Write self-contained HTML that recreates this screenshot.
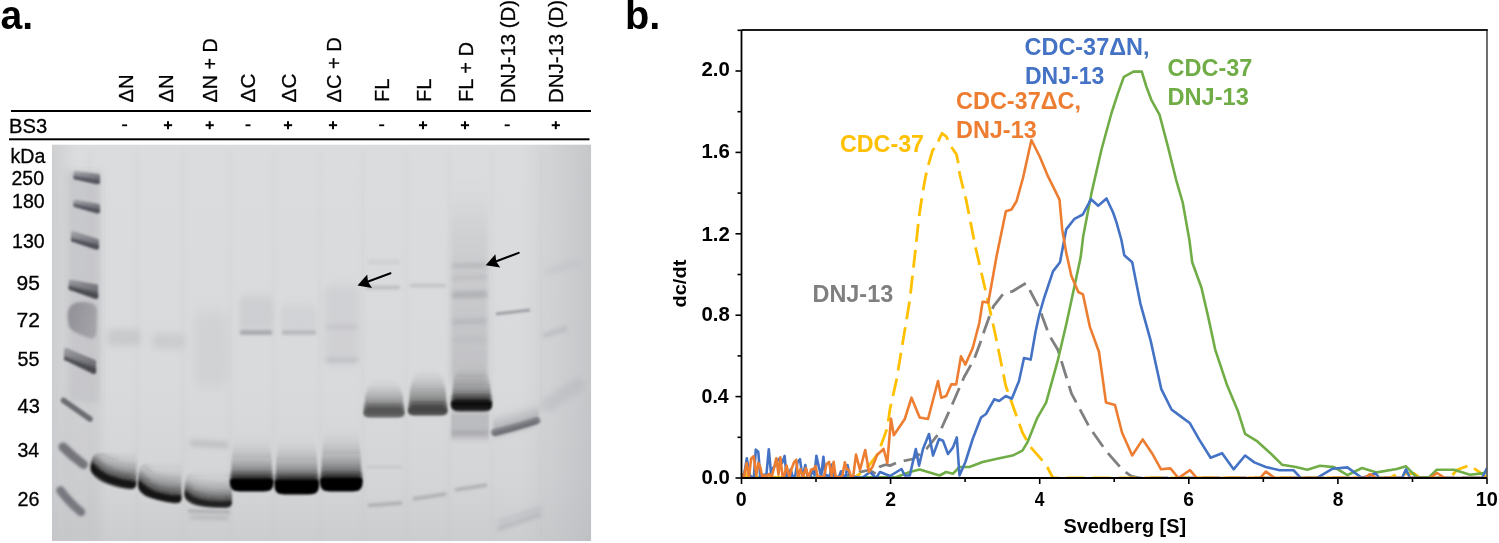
<!DOCTYPE html>
<html><head><meta charset="utf-8"><title>Figure</title>
<style>
html,body{margin:0;padding:0;background:#fff;width:1499px;height:543px;overflow:hidden}
svg{display:block;position:absolute;left:0;top:0;will-change:transform}
text{font-family:"Liberation Sans",sans-serif}
text.r{stroke:#000;stroke-width:0.3px}
.b{font-weight:bold}
</style></head><body>
<svg width="1499" height="543" viewBox="0 0 1499 543">

<text x="0.5" y="28.5" font-size="41.0" font-weight="bold" textLength="32.58" lengthAdjust="spacingAndGlyphs">a.</text>
<text x="0" y="0" font-size="20.8" class="r" textLength="27.97" lengthAdjust="spacingAndGlyphs" transform="translate(132.5,102.5) rotate(-90)">ΔN</text>
<text x="0" y="0" font-size="20.8" class="r" textLength="27.97" lengthAdjust="spacingAndGlyphs" transform="translate(172.5,102.5) rotate(-90)">ΔN</text>
<text x="0" y="0" font-size="20.8" class="r" textLength="64.24" lengthAdjust="spacingAndGlyphs" transform="translate(216.5,102.5) rotate(-90)">ΔN + D</text>
<text x="0" y="0" font-size="20.8" class="r" transform="translate(255.0,102.5) rotate(-90)">ΔC</text>
<text x="0" y="0" font-size="20.8" class="r" transform="translate(296.0,102.5) rotate(-90)">ΔC</text>
<text x="0" y="0" font-size="20.8" class="r" textLength="65.26" lengthAdjust="spacingAndGlyphs" transform="translate(340.5,102.5) rotate(-90)">ΔC + D</text>
<text x="0" y="0" font-size="20.8" class="r" textLength="23.45" lengthAdjust="spacingAndGlyphs" transform="translate(388.5,102.0) rotate(-90)">FL</text>
<text x="0" y="0" font-size="20.8" class="r" textLength="23.45" lengthAdjust="spacingAndGlyphs" transform="translate(431.0,102.0) rotate(-90)">FL</text>
<text x="0" y="0" font-size="20.8" class="r" textLength="59.91" lengthAdjust="spacingAndGlyphs" transform="translate(473.0,102.0) rotate(-90)">FL + D</text>
<text x="0" y="0" font-size="20.8" class="r" textLength="103.10" lengthAdjust="spacingAndGlyphs" transform="translate(515.0,103.0) rotate(-90)">DNJ-13 (D)</text>
<text x="0" y="0" font-size="20.8" class="r" textLength="103.10" lengthAdjust="spacingAndGlyphs" transform="translate(563.0,103.0) rotate(-90)">DNJ-13 (D)</text>
<rect x="11" y="110" width="580" height="2" fill="#000"/>
<rect x="9" y="138.3" width="580.5" height="2" fill="#000"/>
<text x="9.0" y="133.0" font-size="20.0" class="r" textLength="38.15" lengthAdjust="spacingAndGlyphs">BS3</text>
<rect x="122.1" y="124.4" width="5" height="1.8" fill="#000"/>
<rect x="163.9" y="124.2" width="8.2" height="2" fill="#000"/>
<rect x="167.0" y="121.2" width="2" height="8" fill="#000"/>
<rect x="205.6" y="124.2" width="8.2" height="2" fill="#000"/>
<rect x="208.7" y="121.2" width="2" height="8" fill="#000"/>
<rect x="245.5" y="124.4" width="5" height="1.8" fill="#000"/>
<rect x="283.9" y="124.2" width="8.2" height="2" fill="#000"/>
<rect x="287.0" y="121.2" width="2" height="8" fill="#000"/>
<rect x="328.9" y="124.2" width="8.2" height="2" fill="#000"/>
<rect x="332.0" y="121.2" width="2" height="8" fill="#000"/>
<rect x="379.2" y="124.4" width="5" height="1.8" fill="#000"/>
<rect x="418.9" y="124.2" width="8.2" height="2" fill="#000"/>
<rect x="422.0" y="121.2" width="2" height="8" fill="#000"/>
<rect x="460.9" y="124.2" width="8.2" height="2" fill="#000"/>
<rect x="464.0" y="121.2" width="2" height="8" fill="#000"/>
<rect x="504.7" y="124.4" width="5" height="1.8" fill="#000"/>
<rect x="551.7" y="124.2" width="8.2" height="2" fill="#000"/>
<rect x="554.8" y="121.2" width="2" height="8" fill="#000"/>
<text x="10.5" y="163.0" font-size="20.0" class="r" textLength="34.84" lengthAdjust="spacingAndGlyphs">kDa</text>
<text x="11.5" y="184.5" font-size="20.0" class="r" textLength="32.46" lengthAdjust="spacingAndGlyphs">250</text>
<text x="12.0" y="208.0" font-size="20.0" class="r" textLength="32.71" lengthAdjust="spacingAndGlyphs">180</text>
<text x="12.0" y="248.0" font-size="20.0" class="r" textLength="32.71" lengthAdjust="spacingAndGlyphs">130</text>
<text x="16.5" y="289.5" font-size="20.0" class="r" textLength="23.34" lengthAdjust="spacingAndGlyphs">95</text>
<text x="16.5" y="327.0" font-size="20.0" class="r" textLength="23.34" lengthAdjust="spacingAndGlyphs">72</text>
<text x="17.5" y="365.5" font-size="20.0" class="r" textLength="21.97" lengthAdjust="spacingAndGlyphs">55</text>
<text x="17.5" y="413.0" font-size="20.0" class="r" textLength="22.28" lengthAdjust="spacingAndGlyphs">43</text>
<text x="17.5" y="456.5" font-size="20.0" class="r" textLength="21.74" lengthAdjust="spacingAndGlyphs">34</text>
<text x="17.5" y="506.0" font-size="20.0" class="r" textLength="21.97" lengthAdjust="spacingAndGlyphs">26</text>
<defs>
<filter id="b1" filterUnits="userSpaceOnUse" x="0" y="0" width="1499" height="543"><feGaussianBlur stdDeviation="1.2"/></filter>
<filter id="b2" filterUnits="userSpaceOnUse" x="0" y="0" width="1499" height="543"><feGaussianBlur stdDeviation="2"/></filter>
<filter id="b3" filterUnits="userSpaceOnUse" x="0" y="0" width="1499" height="543"><feGaussianBlur stdDeviation="3.5"/></filter>
<filter id="b6" filterUnits="userSpaceOnUse" x="0" y="0" width="1499" height="543"><feGaussianBlur stdDeviation="6"/></filter>
<linearGradient id="smear" x1="0" y1="0" x2="0" y2="1">
 <stop offset="0" stop-color="#707070" stop-opacity="0"/>
 <stop offset="0.55" stop-color="#606060" stop-opacity="0.55"/>
 <stop offset="1" stop-color="#303030" stop-opacity="0.95"/>
</linearGradient>
<clipPath id="plotclip"><rect x="741.5" y="30" width="745.5" height="448"/></clipPath>
<clipPath id="gelclip"><rect x="52" y="144.5" width="539.3" height="396.6"/></clipPath>
</defs>
<defs><linearGradient id="gbg" gradientUnits="userSpaceOnUse" x1="0" y1="144" x2="0" y2="541"><stop offset="0" stop-color="#dbdcdd"/><stop offset="0.6" stop-color="#d9dadb"/><stop offset="0.85" stop-color="#d4d5d7"/><stop offset="1" stop-color="#cccdcf"/></linearGradient><linearGradient id="gright" gradientUnits="userSpaceOnUse" x1="520" y1="0" x2="591" y2="0"><stop offset="0" stop-color="#b4b6ba" stop-opacity="0"/><stop offset="1" stop-color="#b4b6ba" stop-opacity="0.55"/></linearGradient><linearGradient id="gleft" gradientUnits="userSpaceOnUse" x1="52" y1="0" x2="75" y2="0"><stop offset="0" stop-color="#b4b6ba" stop-opacity="0.35"/><stop offset="1" stop-color="#b4b6ba" stop-opacity="0"/></linearGradient><filter id="f_1p5_None" filterUnits="userSpaceOnUse" x="0" y="0" width="1499" height="543"><feGaussianBlur stdDeviation="1.5"/></filter><filter id="f_3p5_None" filterUnits="userSpaceOnUse" x="0" y="0" width="1499" height="543"><feGaussianBlur stdDeviation="3.5"/></filter><filter id="f_2_None" filterUnits="userSpaceOnUse" x="0" y="0" width="1499" height="543"><feGaussianBlur stdDeviation="2"/></filter><clipPath id="c1"><path d="M73.3,172.8 Q73.3,170.8 75.8,170.8 L98,173.8 Q100,173.8 100,175.8 L100,181.9 Q100,184.4 97,184.4 L76.3,179.8 Q73.3,179.8 73.3,177.3 Z"/></clipPath><filter id="f_0p9_None" filterUnits="userSpaceOnUse" x="0" y="0" width="1499" height="543"><feGaussianBlur stdDeviation="0.9"/></filter><linearGradient id="g2" gradientUnits="userSpaceOnUse" x1="73.3" y1="170.8" x2="77.3" y2="184.4"><stop offset="0" stop-color="#4e4e58" stop-opacity="0.303"/><stop offset="1" stop-color="#4e4e58" stop-opacity="0.688"/></linearGradient><filter id="f_1p0_None" filterUnits="userSpaceOnUse" x="0" y="0" width="1499" height="543"><feGaussianBlur stdDeviation="1.0"/></filter><clipPath id="c3"><path d="M73.3,201.5 Q73.3,199.5 75.8,199.5 L98,203.5 Q100,203.5 100,205.5 L100,211.3 Q100,213.8 97,213.8 L76.3,207.5 Q73.3,207.5 73.3,205.0 Z"/></clipPath><linearGradient id="g4" gradientUnits="userSpaceOnUse" x1="73.3" y1="199.5" x2="77.3" y2="213.8"><stop offset="0" stop-color="#4e4e58" stop-opacity="0.303"/><stop offset="1" stop-color="#4e4e58" stop-opacity="0.688"/></linearGradient><clipPath id="c5"><path d="M71,233 Q71,231 73.5,231 L97,238.5 Q99,238.5 99,240.5 L99,247.4 Q99,249.9 96,249.9 L74,242.3 Q71,242.3 71,239.8 Z"/></clipPath><linearGradient id="g6" gradientUnits="userSpaceOnUse" x1="71" y1="231" x2="75" y2="249.9"><stop offset="0" stop-color="#4a4a54" stop-opacity="0.303"/><stop offset="1" stop-color="#4a4a54" stop-opacity="0.688"/></linearGradient><clipPath id="c7"><path d="M68.5,281.5 Q68.5,279.5 71.0,279.5 L96.3,284 Q98.3,284 98.3,286 L98.3,296.7 Q98.3,299.2 95.3,299.2 L71.5,290.5 Q68.5,290.5 68.5,288.0 Z"/></clipPath><filter id="f_1p3_None" filterUnits="userSpaceOnUse" x="0" y="0" width="1499" height="543"><feGaussianBlur stdDeviation="1.3"/></filter><linearGradient id="g8" gradientUnits="userSpaceOnUse" x1="68.5" y1="279.5" x2="72.5" y2="299.2"><stop offset="0" stop-color="#46464e" stop-opacity="0.341"/><stop offset="1" stop-color="#46464e" stop-opacity="0.775"/></linearGradient><linearGradient id="g9" x1="0" y1="0" x2="1" y2="0.3"><stop offset="0" stop-color="#66666e" stop-opacity="0.6"/><stop offset="1" stop-color="#76767e" stop-opacity="0.45"/></linearGradient><filter id="f_1p6_None" filterUnits="userSpaceOnUse" x="0" y="0" width="1499" height="543"><feGaussianBlur stdDeviation="1.6"/></filter><clipPath id="c10"><path d="M64,349.8 Q64,347.8 66.5,347.8 L94.2,359.5 Q96.2,359.5 96.2,361.5 L96.2,371.7 Q96.2,374.2 93.2,374.2 L67,361 Q64,361 64,358.5 Z"/></clipPath><linearGradient id="g11" gradientUnits="userSpaceOnUse" x1="64" y1="347.8" x2="68" y2="374.2"><stop offset="0" stop-color="#46464e" stop-opacity="0.341"/><stop offset="1" stop-color="#46464e" stop-opacity="0.775"/></linearGradient><filter id="f_1p8_None" filterUnits="userSpaceOnUse" x="0" y="0" width="1499" height="543"><feGaussianBlur stdDeviation="1.8"/></filter><filter id="f_3_3p5" filterUnits="userSpaceOnUse" x="0" y="0" width="1499" height="543"><feGaussianBlur stdDeviation="3 3.5"/></filter><filter id="f_4_7" filterUnits="userSpaceOnUse" x="0" y="0" width="1499" height="543"><feGaussianBlur stdDeviation="4 7"/></filter><filter id="f_2p5_4" filterUnits="userSpaceOnUse" x="0" y="0" width="1499" height="543"><feGaussianBlur stdDeviation="2.5 4"/></filter><filter id="f_3_5" filterUnits="userSpaceOnUse" x="0" y="0" width="1499" height="543"><feGaussianBlur stdDeviation="3 5"/></filter><linearGradient id="g12" x1="0" y1="0" x2="0" y2="1"><stop offset="0.000" stop-color="#a8a8ae" stop-opacity="0.000"/><stop offset="0.300" stop-color="#a8a8ae" stop-opacity="0.250"/><stop offset="1.000" stop-color="#a0a0a6" stop-opacity="0.450"/></linearGradient><filter id="f_2_4" filterUnits="userSpaceOnUse" x="0" y="0" width="1499" height="543"><feGaussianBlur stdDeviation="2 4"/></filter><filter id="f_2p2_None" filterUnits="userSpaceOnUse" x="0" y="0" width="1499" height="543"><feGaussianBlur stdDeviation="2.2"/></filter><filter id="f_1_None" filterUnits="userSpaceOnUse" x="0" y="0" width="1499" height="543"><feGaussianBlur stdDeviation="1"/></filter><filter id="f_3_None" filterUnits="userSpaceOnUse" x="0" y="0" width="1499" height="543"><feGaussianBlur stdDeviation="3"/></filter><filter id="f_2p5_None" filterUnits="userSpaceOnUse" x="0" y="0" width="1499" height="543"><feGaussianBlur stdDeviation="2.5"/></filter><clipPath id="c13"><path d="M90.5,470 C90.5,461 92,455 98,453 L136.5,452 L136.5,484 Q136,489.5 129,489.5 Q113,487.5 101,481.5 Q92,476 90.5,470 Z"/></clipPath><linearGradient id="g14" x1="0" y1="0" x2="0" y2="1"><stop offset="0.000" stop-color="#383838" stop-opacity="0.000"/><stop offset="0.125" stop-color="#383838" stop-opacity="0.020"/><stop offset="0.250" stop-color="#383838" stop-opacity="0.056"/><stop offset="0.375" stop-color="#383838" stop-opacity="0.103"/><stop offset="0.500" stop-color="#383838" stop-opacity="0.159"/><stop offset="0.625" stop-color="#383838" stop-opacity="0.222"/><stop offset="0.750" stop-color="#383838" stop-opacity="0.292"/><stop offset="0.875" stop-color="#383838" stop-opacity="0.368"/><stop offset="1.000" stop-color="#383838" stop-opacity="0.450"/></linearGradient><filter id="f_1p5_3" filterUnits="userSpaceOnUse" x="0" y="0" width="1499" height="543"><feGaussianBlur stdDeviation="1.5 3"/></filter><filter id="f_4_None" filterUnits="userSpaceOnUse" x="0" y="0" width="1499" height="543"><feGaussianBlur stdDeviation="4"/></filter><clipPath id="c15"><path d="M138,480 C138,470 140,464 146,463 L181.5,462 L181.5,499 Q181,503.5 175,503.5 Q158,501 146,496.5 Q138.5,492 138,486 Z"/></clipPath><linearGradient id="g16" x1="0" y1="0" x2="0" y2="1"><stop offset="0.000" stop-color="#383838" stop-opacity="0.000"/><stop offset="0.125" stop-color="#383838" stop-opacity="0.020"/><stop offset="0.250" stop-color="#383838" stop-opacity="0.056"/><stop offset="0.375" stop-color="#383838" stop-opacity="0.103"/><stop offset="0.500" stop-color="#383838" stop-opacity="0.159"/><stop offset="0.625" stop-color="#383838" stop-opacity="0.222"/><stop offset="0.750" stop-color="#383838" stop-opacity="0.292"/><stop offset="0.875" stop-color="#383838" stop-opacity="0.368"/><stop offset="1.000" stop-color="#383838" stop-opacity="0.450"/></linearGradient><clipPath id="c17"><path d="M184.5,490 C184.5,480 186,473 192,472 L232,471 L232,503 Q231.5,508 225,508 Q205,508 194,505 Q185,501 184.5,496 Z"/></clipPath><linearGradient id="g18" x1="0" y1="0" x2="0" y2="1"><stop offset="0.000" stop-color="#3c3c3c" stop-opacity="0.000"/><stop offset="0.125" stop-color="#3c3c3c" stop-opacity="0.019"/><stop offset="0.250" stop-color="#3c3c3c" stop-opacity="0.052"/><stop offset="0.375" stop-color="#3c3c3c" stop-opacity="0.096"/><stop offset="0.500" stop-color="#3c3c3c" stop-opacity="0.148"/><stop offset="0.625" stop-color="#3c3c3c" stop-opacity="0.208"/><stop offset="0.750" stop-color="#3c3c3c" stop-opacity="0.273"/><stop offset="0.875" stop-color="#3c3c3c" stop-opacity="0.344"/><stop offset="1.000" stop-color="#3c3c3c" stop-opacity="0.420"/></linearGradient><linearGradient id="g19" gradientUnits="userSpaceOnUse" x1="0" y1="426" x2="0" y2="480.5"><stop offset="0.00" stop-color="#1e1e1e" stop-opacity="0.000"/><stop offset="0.05" stop-color="#1e1e1e" stop-opacity="0.000"/><stop offset="0.10" stop-color="#1e1e1e" stop-opacity="0.001"/><stop offset="0.15" stop-color="#1e1e1e" stop-opacity="0.002"/><stop offset="0.20" stop-color="#1e1e1e" stop-opacity="0.005"/><stop offset="0.25" stop-color="#1e1e1e" stop-opacity="0.009"/><stop offset="0.30" stop-color="#1e1e1e" stop-opacity="0.017"/><stop offset="0.35" stop-color="#1e1e1e" stop-opacity="0.028"/><stop offset="0.40" stop-color="#1e1e1e" stop-opacity="0.043"/><stop offset="0.45" stop-color="#1e1e1e" stop-opacity="0.062"/><stop offset="0.50" stop-color="#1e1e1e" stop-opacity="0.087"/><stop offset="0.55" stop-color="#1e1e1e" stop-opacity="0.118"/><stop offset="0.60" stop-color="#1e1e1e" stop-opacity="0.156"/><stop offset="0.65" stop-color="#1e1e1e" stop-opacity="0.202"/><stop offset="0.70" stop-color="#1e1e1e" stop-opacity="0.256"/><stop offset="0.75" stop-color="#1e1e1e" stop-opacity="0.319"/><stop offset="0.80" stop-color="#1e1e1e" stop-opacity="0.392"/><stop offset="0.85" stop-color="#1e1e1e" stop-opacity="0.476"/><stop offset="0.90" stop-color="#1e1e1e" stop-opacity="0.571"/><stop offset="0.95" stop-color="#1e1e1e" stop-opacity="0.679"/><stop offset="1.00" stop-color="#1e1e1e" stop-opacity="0.800"/></linearGradient><filter id="f_1p2_2p5" filterUnits="userSpaceOnUse" x="0" y="0" width="1499" height="543"><feGaussianBlur stdDeviation="1.2 2.5"/></filter><filter id="f_1p1_None" filterUnits="userSpaceOnUse" x="0" y="0" width="1499" height="543"><feGaussianBlur stdDeviation="1.1"/></filter><linearGradient id="g20" gradientUnits="userSpaceOnUse" x1="0" y1="426" x2="0" y2="481.5"><stop offset="0.00" stop-color="#1e1e1e" stop-opacity="0.000"/><stop offset="0.05" stop-color="#1e1e1e" stop-opacity="0.000"/><stop offset="0.10" stop-color="#1e1e1e" stop-opacity="0.001"/><stop offset="0.15" stop-color="#1e1e1e" stop-opacity="0.002"/><stop offset="0.20" stop-color="#1e1e1e" stop-opacity="0.005"/><stop offset="0.25" stop-color="#1e1e1e" stop-opacity="0.009"/><stop offset="0.30" stop-color="#1e1e1e" stop-opacity="0.017"/><stop offset="0.35" stop-color="#1e1e1e" stop-opacity="0.028"/><stop offset="0.40" stop-color="#1e1e1e" stop-opacity="0.043"/><stop offset="0.45" stop-color="#1e1e1e" stop-opacity="0.062"/><stop offset="0.50" stop-color="#1e1e1e" stop-opacity="0.087"/><stop offset="0.55" stop-color="#1e1e1e" stop-opacity="0.118"/><stop offset="0.60" stop-color="#1e1e1e" stop-opacity="0.156"/><stop offset="0.65" stop-color="#1e1e1e" stop-opacity="0.202"/><stop offset="0.70" stop-color="#1e1e1e" stop-opacity="0.256"/><stop offset="0.75" stop-color="#1e1e1e" stop-opacity="0.319"/><stop offset="0.80" stop-color="#1e1e1e" stop-opacity="0.392"/><stop offset="0.85" stop-color="#1e1e1e" stop-opacity="0.476"/><stop offset="0.90" stop-color="#1e1e1e" stop-opacity="0.571"/><stop offset="0.95" stop-color="#1e1e1e" stop-opacity="0.679"/><stop offset="1.00" stop-color="#1e1e1e" stop-opacity="0.800"/></linearGradient><linearGradient id="g21" gradientUnits="userSpaceOnUse" x1="0" y1="418" x2="0" y2="479.5"><stop offset="0.00" stop-color="#1e1e1e" stop-opacity="0.000"/><stop offset="0.05" stop-color="#1e1e1e" stop-opacity="0.000"/><stop offset="0.10" stop-color="#1e1e1e" stop-opacity="0.001"/><stop offset="0.15" stop-color="#1e1e1e" stop-opacity="0.003"/><stop offset="0.20" stop-color="#1e1e1e" stop-opacity="0.006"/><stop offset="0.25" stop-color="#1e1e1e" stop-opacity="0.013"/><stop offset="0.30" stop-color="#1e1e1e" stop-opacity="0.022"/><stop offset="0.35" stop-color="#1e1e1e" stop-opacity="0.034"/><stop offset="0.40" stop-color="#1e1e1e" stop-opacity="0.051"/><stop offset="0.45" stop-color="#1e1e1e" stop-opacity="0.073"/><stop offset="0.50" stop-color="#1e1e1e" stop-opacity="0.100"/><stop offset="0.55" stop-color="#1e1e1e" stop-opacity="0.133"/><stop offset="0.60" stop-color="#1e1e1e" stop-opacity="0.173"/><stop offset="0.65" stop-color="#1e1e1e" stop-opacity="0.220"/><stop offset="0.70" stop-color="#1e1e1e" stop-opacity="0.274"/><stop offset="0.75" stop-color="#1e1e1e" stop-opacity="0.338"/><stop offset="0.80" stop-color="#1e1e1e" stop-opacity="0.410"/><stop offset="0.85" stop-color="#1e1e1e" stop-opacity="0.491"/><stop offset="0.90" stop-color="#1e1e1e" stop-opacity="0.583"/><stop offset="0.95" stop-color="#1e1e1e" stop-opacity="0.686"/><stop offset="1.00" stop-color="#1e1e1e" stop-opacity="0.800"/></linearGradient><linearGradient id="g22" gradientUnits="userSpaceOnUse" x1="0" y1="380" x2="0" y2="411.5"><stop offset="0.00" stop-color="#4a4a4a" stop-opacity="0.000"/><stop offset="0.05" stop-color="#4a4a4a" stop-opacity="0.009"/><stop offset="0.10" stop-color="#4a4a4a" stop-opacity="0.025"/><stop offset="0.15" stop-color="#4a4a4a" stop-opacity="0.045"/><stop offset="0.20" stop-color="#4a4a4a" stop-opacity="0.070"/><stop offset="0.25" stop-color="#4a4a4a" stop-opacity="0.098"/><stop offset="0.30" stop-color="#4a4a4a" stop-opacity="0.128"/><stop offset="0.35" stop-color="#4a4a4a" stop-opacity="0.162"/><stop offset="0.40" stop-color="#4a4a4a" stop-opacity="0.197"/><stop offset="0.45" stop-color="#4a4a4a" stop-opacity="0.235"/><stop offset="0.50" stop-color="#4a4a4a" stop-opacity="0.276"/><stop offset="0.55" stop-color="#4a4a4a" stop-opacity="0.318"/><stop offset="0.60" stop-color="#4a4a4a" stop-opacity="0.363"/><stop offset="0.65" stop-color="#4a4a4a" stop-opacity="0.409"/><stop offset="0.70" stop-color="#4a4a4a" stop-opacity="0.457"/><stop offset="0.75" stop-color="#4a4a4a" stop-opacity="0.507"/><stop offset="0.80" stop-color="#4a4a4a" stop-opacity="0.558"/><stop offset="0.85" stop-color="#4a4a4a" stop-opacity="0.611"/><stop offset="0.90" stop-color="#4a4a4a" stop-opacity="0.666"/><stop offset="0.95" stop-color="#4a4a4a" stop-opacity="0.722"/><stop offset="1.00" stop-color="#4a4a4a" stop-opacity="0.780"/></linearGradient><linearGradient id="g23" gradientUnits="userSpaceOnUse" x1="0" y1="370" x2="0" y2="409.5"><stop offset="0.00" stop-color="#404040" stop-opacity="0.000"/><stop offset="0.05" stop-color="#404040" stop-opacity="0.009"/><stop offset="0.10" stop-color="#404040" stop-opacity="0.025"/><stop offset="0.15" stop-color="#404040" stop-opacity="0.046"/><stop offset="0.20" stop-color="#404040" stop-opacity="0.072"/><stop offset="0.25" stop-color="#404040" stop-opacity="0.100"/><stop offset="0.30" stop-color="#404040" stop-opacity="0.131"/><stop offset="0.35" stop-color="#404040" stop-opacity="0.166"/><stop offset="0.40" stop-color="#404040" stop-opacity="0.202"/><stop offset="0.45" stop-color="#404040" stop-opacity="0.241"/><stop offset="0.50" stop-color="#404040" stop-opacity="0.283"/><stop offset="0.55" stop-color="#404040" stop-opacity="0.326"/><stop offset="0.60" stop-color="#404040" stop-opacity="0.372"/><stop offset="0.65" stop-color="#404040" stop-opacity="0.419"/><stop offset="0.70" stop-color="#404040" stop-opacity="0.469"/><stop offset="0.75" stop-color="#404040" stop-opacity="0.520"/><stop offset="0.80" stop-color="#404040" stop-opacity="0.572"/><stop offset="0.85" stop-color="#404040" stop-opacity="0.627"/><stop offset="0.90" stop-color="#404040" stop-opacity="0.683"/><stop offset="0.95" stop-color="#404040" stop-opacity="0.741"/><stop offset="1.00" stop-color="#404040" stop-opacity="0.800"/></linearGradient><linearGradient id="g24" gradientUnits="userSpaceOnUse" x1="0" y1="366" x2="0" y2="402.5"><stop offset="0.00" stop-color="#2a2a2a" stop-opacity="0.000"/><stop offset="0.05" stop-color="#2a2a2a" stop-opacity="0.005"/><stop offset="0.10" stop-color="#2a2a2a" stop-opacity="0.016"/><stop offset="0.15" stop-color="#2a2a2a" stop-opacity="0.032"/><stop offset="0.20" stop-color="#2a2a2a" stop-opacity="0.052"/><stop offset="0.25" stop-color="#2a2a2a" stop-opacity="0.076"/><stop offset="0.30" stop-color="#2a2a2a" stop-opacity="0.103"/><stop offset="0.35" stop-color="#2a2a2a" stop-opacity="0.134"/><stop offset="0.40" stop-color="#2a2a2a" stop-opacity="0.168"/><stop offset="0.45" stop-color="#2a2a2a" stop-opacity="0.206"/><stop offset="0.50" stop-color="#2a2a2a" stop-opacity="0.246"/><stop offset="0.55" stop-color="#2a2a2a" stop-opacity="0.290"/><stop offset="0.60" stop-color="#2a2a2a" stop-opacity="0.336"/><stop offset="0.65" stop-color="#2a2a2a" stop-opacity="0.385"/><stop offset="0.70" stop-color="#2a2a2a" stop-opacity="0.436"/><stop offset="0.75" stop-color="#2a2a2a" stop-opacity="0.491"/><stop offset="0.80" stop-color="#2a2a2a" stop-opacity="0.547"/><stop offset="0.85" stop-color="#2a2a2a" stop-opacity="0.607"/><stop offset="0.90" stop-color="#2a2a2a" stop-opacity="0.669"/><stop offset="0.95" stop-color="#2a2a2a" stop-opacity="0.733"/><stop offset="1.00" stop-color="#2a2a2a" stop-opacity="0.800"/></linearGradient><filter id="f_1p2_3" filterUnits="userSpaceOnUse" x="0" y="0" width="1499" height="543"><feGaussianBlur stdDeviation="1.2 3"/></filter><linearGradient id="g25" x1="0" y1="0" x2="0" y2="1"><stop offset="0" stop-color="#8a8a92" stop-opacity="0.05"/><stop offset="1" stop-color="#7a7a82" stop-opacity="0.6"/></linearGradient></defs><g clip-path="url(#gelclip)">
<rect x="52" y="144.5" width="539.3" height="396.6" fill="url(#gbg)"/>
<rect x="520" y="144.5" width="71" height="396.5" fill="url(#gright)"/>
<rect x="52" y="144.5" width="23" height="396.5" fill="url(#gleft)"/>
<rect x="88.5" y="150" width="3" height="391" rx="0" fill="#b8b8b9" fill-opacity="0.12" filter="url(#f_1p5_None)"/>
<rect x="135.5" y="150" width="3" height="391" rx="0" fill="#b8b8b9" fill-opacity="0.12" filter="url(#f_1p5_None)"/>
<rect x="181.5" y="150" width="3" height="391" rx="0" fill="#b8b8b9" fill-opacity="0.12" filter="url(#f_1p5_None)"/>
<rect x="228.5" y="150" width="3" height="391" rx="0" fill="#b8b8b9" fill-opacity="0.12" filter="url(#f_1p5_None)"/>
<rect x="272.5" y="150" width="3" height="391" rx="0" fill="#b8b8b9" fill-opacity="0.12" filter="url(#f_1p5_None)"/>
<rect x="318.5" y="150" width="3" height="391" rx="0" fill="#b8b8b9" fill-opacity="0.12" filter="url(#f_1p5_None)"/>
<rect x="361.5" y="150" width="3" height="391" rx="0" fill="#b8b8b9" fill-opacity="0.12" filter="url(#f_1p5_None)"/>
<rect x="404.5" y="150" width="3" height="391" rx="0" fill="#b8b8b9" fill-opacity="0.12" filter="url(#f_1p5_None)"/>
<rect x="447.5" y="150" width="3" height="391" rx="0" fill="#b8b8b9" fill-opacity="0.12" filter="url(#f_1p5_None)"/>
<rect x="490.5" y="150" width="3" height="391" rx="0" fill="#b8b8b9" fill-opacity="0.12" filter="url(#f_1p5_None)"/>
<rect x="539.5" y="150" width="3" height="391" rx="0" fill="#b8b8b9" fill-opacity="0.12" filter="url(#f_1p5_None)"/>
<rect x="64" y="170" width="38" height="372" rx="0" fill="#b8b8bc" fill-opacity="0.3" filter="url(#f_3p5_None)"/>
<rect x="70" y="172" width="30" height="230" rx="0" fill="#a8a8b0" fill-opacity="0.22" filter="url(#f_2_None)"/>
<g filter="url(#f_0p9_None)"><g clip-path="url(#c1)">
<path d="M73.3,172.8 Q73.3,170.8 75.8,170.8 L98,173.8 Q100,173.8 100,175.8 L100,181.9 Q100,184.4 97,184.4 L76.3,179.8 Q73.3,179.8 73.3,177.3 Z" fill="url(#g2)"/>
<path d="M71.3,178.05 L102,182.65" stroke="#4e4e58" stroke-opacity="0.92" stroke-width="4.5" filter="url(#f_1p0_None)"/>
</g></g>
<g filter="url(#f_0p9_None)"><g clip-path="url(#c3)">
<path d="M73.3,201.5 Q73.3,199.5 75.8,199.5 L98,203.5 Q100,203.5 100,205.5 L100,211.3 Q100,213.8 97,213.8 L76.3,207.5 Q73.3,207.5 73.3,205.0 Z" fill="url(#g4)"/>
<path d="M71.3,205.75 L102,212.05" stroke="#4e4e58" stroke-opacity="0.92" stroke-width="4.5" filter="url(#f_1p0_None)"/>
</g></g>
<g filter="url(#f_0p9_None)"><g clip-path="url(#c5)">
<path d="M71,233 Q71,231 73.5,231 L97,238.5 Q99,238.5 99,240.5 L99,247.4 Q99,249.9 96,249.9 L74,242.3 Q71,242.3 71,239.8 Z" fill="url(#g6)"/>
<path d="M69,240.3 L101,247.9" stroke="#4a4a54" stroke-opacity="0.92" stroke-width="5" filter="url(#f_1p0_None)"/>
</g></g>
<g filter="url(#f_1p3_None)"><g clip-path="url(#c7)">
<path d="M68.5,281.5 Q68.5,279.5 71.0,279.5 L96.3,284 Q98.3,284 98.3,286 L98.3,296.7 Q98.3,299.2 95.3,299.2 L71.5,290.5 Q68.5,290.5 68.5,288.0 Z" fill="url(#g8)"/>
<path d="M66.5,288.25 L100.3,296.95" stroke="#46464e" stroke-opacity="0.95" stroke-width="5.5" filter="url(#f_1p0_None)"/>
</g></g>
<path d="M67.5,316 C67.5,306 73,301.5 83,302 C92,302.5 97,304.5 97,311 L96.5,332 C96,337.5 93.5,339.5 89,338 C80,335 71,331 68.5,326 Z" fill="url(#g9)" filter="url(#f_1p6_None)"/>
<g filter="url(#f_1p3_None)"><g clip-path="url(#c10)">
<path d="M64,349.8 Q64,347.8 66.5,347.8 L94.2,359.5 Q96.2,359.5 96.2,361.5 L96.2,371.7 Q96.2,374.2 93.2,374.2 L67,361 Q64,361 64,358.5 Z" fill="url(#g11)"/>
<path d="M62,358.75 L98.2,371.95" stroke="#46464e" stroke-opacity="0.95" stroke-width="5.5" filter="url(#f_1p0_None)"/>
</g></g>
<path d="M63.5,400.5 L90,419" fill="none" stroke="#5a5a62" stroke-opacity="0.85" stroke-width="5.5" stroke-linecap="round" filter="url(#f_1p0_None)"/>
<path d="M63,447 Q72,456 83.5,464.5" fill="none" stroke="#55555e" stroke-opacity="0.75" stroke-width="9" stroke-linecap="round" filter="url(#f_1p8_None)"/>
<path d="M60.5,490.5 Q69,502 81,512" fill="none" stroke="#55555e" stroke-opacity="0.7" stroke-width="8.5" stroke-linecap="round" filter="url(#f_1p8_None)"/>
<rect x="107" y="329" width="34" height="17" rx="6" fill="#a8a8ae" fill-opacity="0.32" filter="url(#f_3_3p5)"/>
<rect x="152" y="333" width="33" height="16" rx="6" fill="#acacb2" fill-opacity="0.3" filter="url(#f_3_3p5)"/>
<rect x="194" y="312" width="34" height="75" rx="8" fill="#b0b0b6" fill-opacity="0.2" filter="url(#f_4_7)"/>
<rect x="239" y="296" width="34" height="36" rx="6" fill="#b4b4ba" fill-opacity="0.3" filter="url(#f_2p5_4)"/>
<path d="M240,332.5 L272,332.5" stroke="#88888f" stroke-opacity="0.6" stroke-width="4.5" stroke-linecap="butt" filter="url(#f_1p5_None)"/>
<rect x="281" y="305" width="35" height="28" rx="6" fill="#b8b8be" fill-opacity="0.22" filter="url(#f_2p5_4)"/>
<path d="M282,332.5 L316,332.5" stroke="#94949a" stroke-opacity="0.5" stroke-width="4" stroke-linecap="butt" filter="url(#f_1p5_None)"/>
<rect x="325" y="285" width="34" height="80" rx="6" fill="#b4b4ba" fill-opacity="0.25" filter="url(#f_3_5)"/>
<path d="M326,327 L358,327" stroke="#a0a0a6" stroke-opacity="0.28" stroke-width="4" stroke-linecap="butt" filter="url(#f_2_None)"/>
<path d="M326,360 L358,360" stroke="#98989e" stroke-opacity="0.3" stroke-width="5" stroke-linecap="butt" filter="url(#f_2_None)"/>
<path d="M366,287.5 L400,287.5" stroke="#9a9aa0" stroke-opacity="0.45" stroke-width="3.5" stroke-linecap="butt" filter="url(#f_1p5_None)"/>
<path d="M368,262 L400,262" stroke="#aaaab0" stroke-opacity="0.3" stroke-width="4" stroke-linecap="butt" filter="url(#f_2_None)"/>
<path d="M410,285.5 L446,285.5" stroke="#a0a0a6" stroke-opacity="0.4" stroke-width="3.5" stroke-linecap="butt" filter="url(#f_1p5_None)"/>
<rect x="451" y="185" width="37" height="200" rx="6" fill="url(#g12)" filter="url(#f_2_4)"/>
<path d="M452,266 L487,265" stroke="#85858d" stroke-opacity="0.27999999999999997" stroke-width="5" stroke-linecap="butt" filter="url(#f_2p2_None)"/>
<path d="M452,278 L487,277" stroke="#85858d" stroke-opacity="0.22400000000000003" stroke-width="4" stroke-linecap="butt" filter="url(#f_2p2_None)"/>
<path d="M452,295 L487,294" stroke="#85858d" stroke-opacity="0.4" stroke-width="6" stroke-linecap="butt" filter="url(#f_2p2_None)"/>
<path d="M452,322 L487,321" stroke="#85858d" stroke-opacity="0.24" stroke-width="5" stroke-linecap="butt" filter="url(#f_2p2_None)"/>
<path d="M452,340 L487,339" stroke="#85858d" stroke-opacity="0.12" stroke-width="4" stroke-linecap="butt" filter="url(#f_2p2_None)"/>
<path d="M496,314 L530,310" stroke="#888890" stroke-opacity="0.7" stroke-width="3" stroke-linecap="butt" filter="url(#f_1_None)"/>
<path d="M543,336 L567,328" stroke="#a0a0a8" stroke-opacity="0.45" stroke-width="4" stroke-linecap="butt" filter="url(#f_2_None)"/>
<path d="M545,272 L580,262" stroke="#b0b0b6" stroke-opacity="0.35" stroke-width="5" stroke-linecap="butt" filter="url(#f_3_None)"/>
<path d="M548,405 Q562,395 578,385" fill="none" stroke="#b4b4ba" stroke-opacity="0.45" stroke-width="14" stroke-linecap="round" filter="url(#f_3_None)"/>
<path d="M190,443 L228,445" stroke="#a0a0a6" stroke-opacity="0.4" stroke-width="7" stroke-linecap="butt" filter="url(#f_2p5_None)"/>
<g filter="url(#f_1p0_None)"><g clip-path="url(#c13)">
<rect x="0" y="450" width="1499" height="39" fill="url(#g14)" filter="url(#f_1p5_3)"/>
<path d="M91,471 Q99,480 110,484 T134,489.5" transform="translate(0,-17)" fill="none" stroke="#2a2a2a" stroke-opacity="0.22" stroke-width="14" stroke-linecap="round" filter="url(#f_4_None)"/>
<path d="M91,471 Q99,480 110,484 T134,489.5" transform="translate(0,-9.5)" fill="none" stroke="#1c1c1c" stroke-opacity="0.5" stroke-width="10" stroke-linecap="round" filter="url(#f_2p5_None)"/>
<path d="M91,471 Q99,480 110,484 T134,489.5" transform="translate(0,-4)" fill="none" stroke="#0c0c0c" stroke-opacity="0.93" stroke-width="8.5" stroke-linecap="round" filter="url(#f_1p3_None)"/>
</g></g>
<g filter="url(#f_1p0_None)"><g clip-path="url(#c15)">
<rect x="0" y="460" width="1499" height="43" fill="url(#g16)" filter="url(#f_1p5_3)"/>
<path d="M138.5,489 Q145,497 158,500.5 T180,503.5" transform="translate(0,-17)" fill="none" stroke="#2a2a2a" stroke-opacity="0.22" stroke-width="14" stroke-linecap="round" filter="url(#f_4_None)"/>
<path d="M138.5,489 Q145,497 158,500.5 T180,503.5" transform="translate(0,-9.5)" fill="none" stroke="#1c1c1c" stroke-opacity="0.5" stroke-width="10" stroke-linecap="round" filter="url(#f_2p5_None)"/>
<path d="M138.5,489 Q145,497 158,500.5 T180,503.5" transform="translate(0,-4)" fill="none" stroke="#0c0c0c" stroke-opacity="0.93" stroke-width="8.5" stroke-linecap="round" filter="url(#f_1p3_None)"/>
</g></g>
<g filter="url(#f_1p0_None)"><g clip-path="url(#c17)">
<rect x="0" y="469" width="1499" height="39" fill="url(#g18)" filter="url(#f_1p5_3)"/>
<path d="M185,498 Q192,505 205,507 T231,507.5" transform="translate(0,-15)" fill="none" stroke="#2e2e2e" stroke-opacity="0.22" stroke-width="12" stroke-linecap="round" filter="url(#f_4_None)"/>
<path d="M185,498 Q192,505 205,507 T231,507.5" transform="translate(0,-8.5)" fill="none" stroke="#202020" stroke-opacity="0.5" stroke-width="9" stroke-linecap="round" filter="url(#f_2p5_None)"/>
<path d="M185,498 Q192,505 205,507 T231,507.5" transform="translate(0,-3.5)" fill="none" stroke="#141414" stroke-opacity="0.9" stroke-width="7.5" stroke-linecap="round" filter="url(#f_1p3_None)"/>
</g></g>
<path d="M188,511 L230,512" stroke="#808086" stroke-opacity="0.45" stroke-width="3" stroke-linecap="butt" filter="url(#f_1p5_None)"/>
<path d="M190,517 L228,518" stroke="#909096" stroke-opacity="0.4" stroke-width="4" stroke-linecap="butt" filter="url(#f_2_None)"/>
<path d="M230.5,482.5 L231.5,466.5 Q233,432 242,426 L261.5,426 Q270.5,432 272.0,466.5 L273.0,482.5 Z" fill="url(#g19)" filter="url(#f_1p2_2p5)"/>
<rect x="231" y="473.5" width="41.5" height="9" rx="4" fill="#1a1a1a" fill-opacity="0.5" filter="url(#f_2p2_None)"/>
<path d="M230,481.5 Q230,478.5 234,478.5 L269.5,478.5 Q273.5,478.5 273.5,481.5 L273.5,483.7 Q273.5,491.5 263.7,491.5 L239.8,491.5 Q230,491.5 230,483.7 Z" fill="#050505" fill-opacity="1.0" filter="url(#f_1p1_None)"/>
<path d="M275.0,483.5 L276.0,467.5 Q277.5,432 286.5,426 L307,426 Q316,432 317.5,467.5 L318.5,483.5 Z" fill="url(#g20)" filter="url(#f_1p2_2p5)"/>
<rect x="275.5" y="474.5" width="42.5" height="9" rx="4" fill="#1a1a1a" fill-opacity="0.5" filter="url(#f_2p2_None)"/>
<path d="M274.5,482.5 Q274.5,479.5 278.5,479.5 L315,479.5 Q319,479.5 319,482.5 L319,486.5 Q319,494.5 309,494.5 L284.5,494.5 Q274.5,494.5 274.5,486.5 Z" fill="#050505" fill-opacity="1.0" filter="url(#f_1p1_None)"/>
<path d="M320.5,481.5 L321.5,465.5 Q323,424 332,418 L350.5,418 Q359.5,424 361.0,465.5 L362.0,481.5 Z" fill="url(#g21)" filter="url(#f_1p2_2p5)"/>
<rect x="321" y="472.5" width="40.5" height="9" rx="4" fill="#1a1a1a" fill-opacity="0.5" filter="url(#f_2p2_None)"/>
<path d="M320,480.5 Q320,477.5 324,477.5 L358.5,477.5 Q362.5,477.5 362.5,480.5 L362.5,483.5 Q362.5,491.5 352.5,491.5 L330,491.5 Q320,491.5 320,483.5 Z" fill="#050505" fill-opacity="1.0" filter="url(#f_1p1_None)"/>
<path d="M364.0,413.5 L365.0,397.5 Q366.5,386 375.5,380 L392.5,380 Q401.5,386 403.0,397.5 L404.0,413.5 Z" fill="url(#g22)" filter="url(#f_1p2_2p5)"/>
<rect x="364.5" y="404.5" width="39.0" height="9" rx="4" fill="#1a1a1a" fill-opacity="0.35" filter="url(#f_2p2_None)"/>
<path d="M363.5,412.5 Q363.5,409.5 367.5,409.5 L400.5,409.5 Q404.5,409.5 404.5,412.5 L404.5,412.7 Q404.5,417.5 397.7,417.5 L370.3,417.5 Q363.5,417.5 363.5,412.7 Z" fill="#505050" fill-opacity="0.8" filter="url(#f_1p1_None)"/>
<path d="M408.5,411.5 L409.5,395.5 Q411,376 420,370 L435.5,370 Q444.5,376 446.0,395.5 L447.0,411.5 Z" fill="url(#g23)" filter="url(#f_1p2_2p5)"/>
<rect x="409" y="402.5" width="37.5" height="9" rx="4" fill="#1a1a1a" fill-opacity="0.4" filter="url(#f_2p2_None)"/>
<path d="M408,410.5 Q408,407.5 412,407.5 L443.5,407.5 Q447.5,407.5 447.5,410.5 L447.5,410.7 Q447.5,415.5 440.7,415.5 L414.8,415.5 Q408,415.5 408,410.7 Z" fill="#404040" fill-opacity="0.85" filter="url(#f_1p1_None)"/>
<path d="M451.5,404.5 L452.5,388.5 Q454,372 463,366 L480,366 Q489,372 490.5,388.5 L491.5,404.5 Z" fill="url(#g24)" filter="url(#f_1p2_2p5)"/>
<rect x="452" y="395.5" width="39" height="9" rx="4" fill="#1a1a1a" fill-opacity="0.5" filter="url(#f_2p2_None)"/>
<path d="M451,403.5 Q451,400.5 455,400.5 L488,400.5 Q492,400.5 492,403.5 L492,404.9 Q492,411.5 483.4,411.5 L459.6,411.5 Q451,411.5 451,404.9 Z" fill="#080808" fill-opacity="1.0" filter="url(#f_1p1_None)"/>
<rect x="451" y="411" width="38" height="28" rx="0" fill="#a0a0a6" fill-opacity="0.5" filter="url(#f_1p2_3)"/>
<path d="M452,433 L488,433" stroke="#909096" stroke-opacity="0.5" stroke-width="4" stroke-linecap="butt" filter="url(#f_2_None)"/>
<path d="M368,505.5 L402,503" stroke="#8c8c92" stroke-opacity="0.5" stroke-width="3.5" stroke-linecap="butt" filter="url(#f_1p5_None)"/>
<path d="M413,499 L446,494" stroke="#8c8c92" stroke-opacity="0.5" stroke-width="3.5" stroke-linecap="butt" filter="url(#f_1p5_None)"/>
<path d="M455,490 L487,485" stroke="#8c8c92" stroke-opacity="0.5" stroke-width="3.5" stroke-linecap="butt" filter="url(#f_1p5_None)"/>
<path d="M366,467 L402,467" stroke="#a8a8ae" stroke-opacity="0.3" stroke-width="3" stroke-linecap="butt" filter="url(#f_1p5_None)"/>
<path d="M498,529 L541,514" stroke="#909098" stroke-opacity="0.4" stroke-width="4" stroke-linecap="butt" filter="url(#f_2_None)"/>
<path d="M498,522 L541,508" stroke="#a0a0a8" stroke-opacity="0.3" stroke-width="4" stroke-linecap="butt" filter="url(#f_2_None)"/>
<g transform="matrix(1,-0.28,0,1,0,144.41)"><rect x="493" y="410" width="45.5" height="20" rx="6" fill="url(#g25)" filter="url(#f_1p5_3)"/></g>
<path d="M494.5,432.5 Q515,427.5 537,420.5" fill="none" stroke="#74747c" stroke-opacity="0.8" stroke-width="7" stroke-linecap="round" filter="url(#f_1p3_None)"/>
<path d="M494.5,434 Q515,429 537,422" fill="none" stroke="#606068" stroke-opacity="0.6" stroke-width="3" stroke-linecap="round" filter="url(#f_1p0_None)"/>
</g>
<path d="M357.5,285.5 L367.2,274.5 L368.0,281.7 L372.0,287.9 Z" fill="#000"/><line x1="365.5" y1="282.5" x2="390.5" y2="273.2" stroke="#000" stroke-width="2" stroke-linecap="round"/>
<path d="M485.7,265.2 L495.4,254.2 L496.2,261.4 L500.2,267.59999999999997 Z" fill="#000"/><line x1="493.7" y1="262.2" x2="518.7" y2="252.89999999999998" stroke="#000" stroke-width="2" stroke-linecap="round"/>
<text x="625.0" y="28.5" font-size="41.0" font-weight="bold" textLength="35.35" lengthAdjust="spacingAndGlyphs">b.</text>
<line x1="735.5" y1="478.0" x2="741.5" y2="478.0" stroke="#000" stroke-width="1.6"/>
<line x1="737.5" y1="437.3" x2="741.5" y2="437.3" stroke="#000" stroke-width="1.6"/>
<line x1="735.5" y1="396.6" x2="741.5" y2="396.6" stroke="#000" stroke-width="1.6"/>
<line x1="737.5" y1="355.9" x2="741.5" y2="355.9" stroke="#000" stroke-width="1.6"/>
<line x1="735.5" y1="315.2" x2="741.5" y2="315.2" stroke="#000" stroke-width="1.6"/>
<line x1="737.5" y1="274.5" x2="741.5" y2="274.5" stroke="#000" stroke-width="1.6"/>
<line x1="735.5" y1="233.8" x2="741.5" y2="233.8" stroke="#000" stroke-width="1.6"/>
<line x1="737.5" y1="193.1" x2="741.5" y2="193.1" stroke="#000" stroke-width="1.6"/>
<line x1="735.5" y1="152.4" x2="741.5" y2="152.4" stroke="#000" stroke-width="1.6"/>
<line x1="737.5" y1="111.7" x2="741.5" y2="111.7" stroke="#000" stroke-width="1.6"/>
<line x1="735.5" y1="71.0" x2="741.5" y2="71.0" stroke="#000" stroke-width="1.6"/>
<line x1="737.5" y1="30.3" x2="741.5" y2="30.3" stroke="#000" stroke-width="1.6"/>
<line x1="741.5" y1="478.0" x2="741.5" y2="484.0" stroke="#000" stroke-width="1.6"/>
<line x1="816.0" y1="478.0" x2="816.0" y2="482.0" stroke="#000" stroke-width="1.6"/>
<line x1="890.6" y1="478.0" x2="890.6" y2="484.0" stroke="#000" stroke-width="1.6"/>
<line x1="965.1" y1="478.0" x2="965.1" y2="482.0" stroke="#000" stroke-width="1.6"/>
<line x1="1039.7" y1="478.0" x2="1039.7" y2="484.0" stroke="#000" stroke-width="1.6"/>
<line x1="1114.2" y1="478.0" x2="1114.2" y2="482.0" stroke="#000" stroke-width="1.6"/>
<line x1="1188.8" y1="478.0" x2="1188.8" y2="484.0" stroke="#000" stroke-width="1.6"/>
<line x1="1263.3" y1="478.0" x2="1263.3" y2="482.0" stroke="#000" stroke-width="1.6"/>
<line x1="1337.9" y1="478.0" x2="1337.9" y2="484.0" stroke="#000" stroke-width="1.6"/>
<line x1="1412.5" y1="478.0" x2="1412.5" y2="482.0" stroke="#000" stroke-width="1.6"/>
<line x1="1487.0" y1="478.0" x2="1487.0" y2="484.0" stroke="#000" stroke-width="1.6"/>
<text x="701.5" y="484.0" font-size="21.0" font-weight="bold" textLength="28.34" lengthAdjust="spacingAndGlyphs">0.0</text>
<text x="701.5" y="402.5" font-size="21.0" font-weight="bold" textLength="27.22" lengthAdjust="spacingAndGlyphs">0.4</text>
<text x="701.5" y="321.0" font-size="21.0" font-weight="bold" textLength="28.34" lengthAdjust="spacingAndGlyphs">0.8</text>
<text x="701.5" y="240.5" font-size="21.0" font-weight="bold" textLength="28.31" lengthAdjust="spacingAndGlyphs">1.2</text>
<text x="701.5" y="158.0" font-size="21.0" font-weight="bold" textLength="28.31" lengthAdjust="spacingAndGlyphs">1.6</text>
<text x="701.5" y="75.5" font-size="21.0" font-weight="bold" textLength="28.34" lengthAdjust="spacingAndGlyphs">2.0</text>
<text x="735.75" y="506.0" font-size="21.0" font-weight="bold" textLength="10.92" lengthAdjust="spacingAndGlyphs">0</text>
<text x="885.25" y="506.0" font-size="21.0" font-weight="bold" textLength="10.78" lengthAdjust="spacingAndGlyphs">2</text>
<text x="1034.75" y="506.0" font-size="21.0" font-weight="bold" textLength="9.70" lengthAdjust="spacingAndGlyphs">4</text>
<text x="1183.25" y="506.0" font-size="21.0" font-weight="bold" textLength="10.67" lengthAdjust="spacingAndGlyphs">6</text>
<text x="1332.75" y="506.0" font-size="21.0" font-weight="bold" textLength="10.67" lengthAdjust="spacingAndGlyphs">8</text>
<text x="1475.75" y="506.0" font-size="21.0" font-weight="bold" textLength="22.25" lengthAdjust="spacingAndGlyphs">10</text>
<text x="1063.5" y="532.5" font-size="19.5" font-weight="bold" textLength="122.61" lengthAdjust="spacingAndGlyphs">Svedberg [S]</text>
<text x="0" y="0" font-size="18.5" font-weight="bold" textLength="47.83" lengthAdjust="spacingAndGlyphs" transform="translate(685.5,307.5) rotate(-90)">dc/dt</text>
<text x="840.0" y="151.5" font-size="24.0" font-weight="bold" fill="#FFC000" textLength="84.03" lengthAdjust="spacingAndGlyphs">CDC-37</text>
<text x="956.0" y="108.5" font-size="24.0" font-weight="bold" fill="#ED7D31" textLength="125.03" lengthAdjust="spacingAndGlyphs">CDC-37ΔC,</text>
<text x="956.0" y="137.5" font-size="24.0" font-weight="bold" fill="#ED7D31" textLength="80.68" lengthAdjust="spacingAndGlyphs">DNJ-13</text>
<text x="1024.5" y="55.0" font-size="24.0" font-weight="bold" fill="#4472C4" textLength="125.03" lengthAdjust="spacingAndGlyphs">CDC-37ΔN,</text>
<text x="1025.0" y="83.5" font-size="24.0" font-weight="bold" fill="#4472C4" textLength="79.23" lengthAdjust="spacingAndGlyphs">DNJ-13</text>
<text x="1167.5" y="75.5" font-size="24.0" font-weight="bold" fill="#70AD47" textLength="84.85" lengthAdjust="spacingAndGlyphs">CDC-37</text>
<text x="1167.5" y="104.5" font-size="24.0" font-weight="bold" fill="#70AD47" textLength="81.29" lengthAdjust="spacingAndGlyphs">DNJ-13</text>
<text x="812.5" y="302.0" font-size="24.0" font-weight="bold" fill="#7F7F7F" textLength="80.68" lengthAdjust="spacingAndGlyphs">DNJ-13</text>
<g clip-path="url(#plotclip)">
<polyline points="741.5,478.0 780.0,477.0 800.0,478.0 840.0,477.0 869.0,470.0 876.3,474.0 880.0,466.6 885.5,464.7 890.0,465.6 898.0,462.0 913.0,459.0 926.4,449.0 939.6,432.5 952.0,405.0 964.0,377.3 974.2,359.0 980.2,342.9 984.3,330.7 989.4,316.6 993.4,306.4 1000.5,297.3 1003.5,293.3 1012.6,291.3 1025.8,283.2 1030.9,292.3 1040.0,309.5 1043.0,318.6 1049.0,334.8 1058.0,350.0 1071.4,393.4 1089.8,427.9 1106.0,450.9 1122.0,469.3 1131.2,476.2 1140.0,478.0 1487.0,478.0" fill="none" stroke="#7F7F7F" stroke-width="2.8" stroke-linejoin="round" stroke-dasharray="18,8" stroke-dashoffset="12.04"/>
<polyline points="741.5,476.0 743.5,468.0 746.5,477.0 760.0,477.0 790.0,477.5 830.0,477.0 850.0,477.5 854.2,477.6 859.7,474.0 868.9,465.6 878.0,453.7 887.3,428.0 890.0,409.0 896.5,380.0 909.8,300.0 916.0,245.0 918.8,218.4 922.0,196.3 925.4,177.5 927.6,167.6 932.7,150.0 936.5,146.6 939.3,138.8 942.0,133.3 946.4,136.6 950.4,145.5 956.4,154.3 957.9,161.0 959.7,174.2 963.0,187.5 966.3,200.7 975.0,245.0 987.7,300.0 995.0,333.0 1005.8,386.0 1022.4,432.5 1030.0,446.3 1046.0,464.7 1053.0,478.0 1100.0,478.0 1200.0,478.0 1300.0,478.0 1390.0,478.0 1396.7,474.0 1414.0,473.4 1420.0,478.0 1450.0,478.0 1456.8,470.0 1470.1,465.0 1474.0,468.4 1482.0,473.8 1487.0,477.4" fill="none" stroke="#FFC000" stroke-width="2.8" stroke-linejoin="round" stroke-dasharray="18,8" stroke-dashoffset="14.69"/>
<polyline points="741.5,478.0 800.0,478.0 850.0,477.5 896.6,477.0 909.8,472.0 919.7,469.5 939.6,475.5 946.2,472.0 952.8,473.8 959.5,467.0 969.4,467.0 982.6,462.0 995.9,459.0 1012.5,455.6 1022.4,450.7 1027.4,442.4 1036.9,418.7 1046.1,402.6 1057.6,361.2 1066.8,322.0 1073.7,289.8 1080.6,257.6 1083.3,235.7 1091.6,192.6 1101.5,149.5 1111.5,113.0 1118.0,93.1 1123.9,76.8 1133.4,71.6 1141.8,71.6 1146.3,86.5 1151.3,99.8 1159.5,114.7 1167.8,146.2 1176.0,179.3 1182.7,202.5 1189.4,240.0 1192.2,262.2 1201.4,287.5 1208.3,317.4 1215.2,349.6 1226.7,384.2 1238.2,411.8 1245.1,433.9 1256.6,440.8 1270.4,453.2 1282.0,464.7 1295.8,467.0 1307.3,469.8 1320.0,465.8 1334.0,467.1 1347.4,475.1 1362.0,468.0 1376.7,472.4 1396.7,469.0 1406.0,466.3 1416.8,477.4 1428.8,477.4 1436.8,469.8 1454.0,469.8 1470.0,474.7 1482.0,473.4 1487.0,472.0" fill="none" stroke="#70AD47" stroke-width="2.6" stroke-linejoin="round"/>
<polyline points="741.5,475.0 744.1,475.0 746.8,458.4 749.5,474.4 751.4,477.0 753.8,477.9 755.8,449.6 758.3,452.0 760.3,477.5 762.1,477.2 764.2,474.5 766.3,475.8 768.8,449.2 771.2,475.3 773.3,467.7 775.3,465.7 777.7,460.2 779.9,458.2 782.1,463.1 784.6,455.9 786.5,475.5 788.4,476.9 790.7,469.4 792.7,477.4 795.3,475.2 797.4,462.5 800.0,459.2 802.5,477.9 805.3,465.1 807.7,477.0 810.4,477.1 812.5,469.0 814.5,475.0 816.4,455.7 818.8,466.7 821.2,476.6 823.4,456.7 825.3,475.5 827.2,475.2 829.6,477.7 831.9,464.5 834.0,476.0 836.6,477.1 838.9,477.0 841.0,471.3 843.2,476.1 845.6,477.3 847.5,465.1 850.0,476.0 862.0,478.0 870.0,472.0 876.0,478.0 880.0,472.0 890.0,476.0 901.5,469.0 904.8,475.5 909.8,475.5 915.8,449.0 919.0,465.6 923.0,449.0 929.0,434.0 933.0,455.6 939.0,439.0 943.0,440.7 948.0,454.0 953.0,447.4 956.8,437.4 959.5,475.5 965.4,462.0 972.7,439.0 981.0,417.5 986.0,414.0 994.2,399.3 999.2,401.0 1005.8,396.0 1011.8,398.7 1019.0,381.0 1024.0,358.0 1030.7,359.6 1035.6,331.5 1039.2,315.0 1043.8,299.0 1053.0,271.4 1060.0,262.2 1066.2,229.4 1074.5,218.8 1082.8,214.5 1091.0,199.2 1098.2,205.8 1106.5,198.5 1113.1,212.5 1116.5,222.4 1121.4,240.0 1124.3,255.3 1132.2,262.2 1140.4,303.6 1150.6,340.4 1161.2,388.8 1171.5,409.5 1180.7,416.4 1190.0,423.3 1199.1,439.4 1210.6,457.8 1222.1,453.2 1233.6,469.3 1245.1,455.5 1254.3,462.4 1265.8,467.0 1279.7,470.2 1293.5,470.2 1300.7,478.0 1316.7,478.0 1332.7,468.7 1347.4,467.4 1362.0,478.0 1375.4,473.4 1379.4,478.0 1402.0,478.0 1406.0,469.4 1410.0,478.0 1482.0,478.0 1487.0,468.0" fill="none" stroke="#4472C4" stroke-width="2.6" stroke-linejoin="round"/>
<polyline points="741.5,475.8 744.2,476.0 746.6,463.0 749.0,477.6 751.1,458.7 753.6,456.3 756.3,475.5 758.3,462.7 760.2,466.8 762.1,476.2 764.7,475.4 767.0,476.2 769.1,474.0 771.7,476.7 773.7,469.3 776.3,458.2 778.5,474.6 780.3,457.3 782.6,476.4 784.5,474.9 786.6,465.5 789.3,477.5 791.4,469.4 794.0,462.3 796.2,459.8 798.2,477.5 800.4,469.3 803.1,477.1 805.8,468.0 808.4,477.7 811.2,469.5 813.7,469.0 815.6,466.0 817.7,476.9 819.9,476.5 822.3,477.5 824.3,475.5 826.4,464.3 829.1,462.0 831.7,476.7 833.6,461.9 835.7,477.2 838.3,477.1 840.3,477.8 842.4,475.4 844.8,462.4 846.8,469.3 849.0,470.3 851.2,477.6 853.4,475.1 856.0,454.6 860.0,470.0 865.2,450.0 869.0,472.0 872.6,466.6 877.0,455.0 883.6,449.0 887.3,462.9 891.0,418.7 893.8,435.2 904.8,419.0 911.5,397.7 919.7,417.5 928.0,419.0 938.0,381.0 941.3,397.7 946.2,396.0 951.2,384.4 956.2,384.4 961.0,356.3 965.4,364.6 972.7,348.0 979.3,323.0 982.6,301.7 988.3,302.4 996.6,256.0 1005.9,211.2 1011.5,209.5 1016.5,201.3 1023.0,178.0 1031.4,140.0 1039.7,156.5 1048.0,176.4 1054.6,189.7 1059.5,199.6 1062.2,229.4 1066.2,252.6 1071.4,276.0 1078.3,292.0 1083.0,294.4 1089.8,326.6 1099.0,352.0 1106.0,402.6 1115.0,405.0 1122.0,432.5 1132.2,455.5 1142.7,439.4 1152.0,453.2 1161.0,469.3 1170.4,468.4 1178.4,478.0 1190.0,470.2 1196.8,478.0 1260.0,478.0 1265.8,471.6 1275.0,478.0 1365.0,478.0 1370.0,474.0 1376.0,478.0 1430.0,478.0 1437.0,473.0 1445.0,478.0 1487.0,478.0" fill="none" stroke="#ED7D31" stroke-width="2.6" stroke-linejoin="round"/>
</g>
<path d="M1487.0,30 V478.0" fill="none" stroke="#555" stroke-width="1.7"/>
<path d="M741.5,30 H1487.8" fill="none" stroke="#1a1a1a" stroke-width="1.9"/>
<path d="M741.5,30 V478.0 H1487.0" fill="none" stroke="#000" stroke-width="1.8"/>
</svg></body></html>
